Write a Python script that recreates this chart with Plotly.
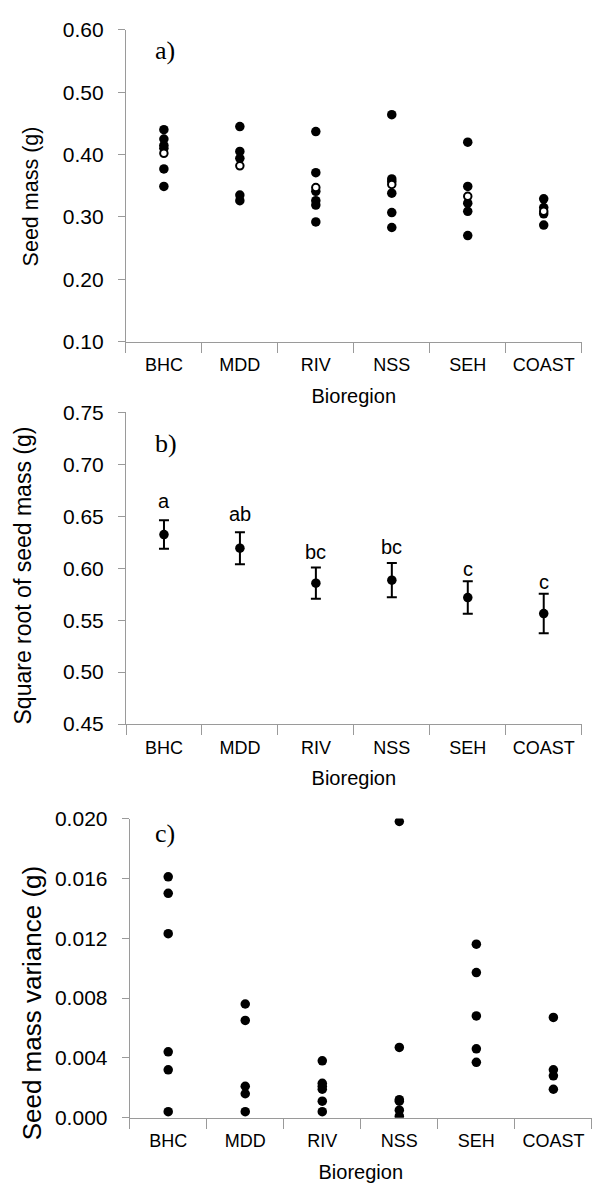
import plotly.graph_objects as go

W, H = 593, 1199

regions = ["BHC", "MDD", "RIV", "NSS", "SEH", "COAST"]

# Panel a: seed mass per population (filled) and regional mean (open)
mass_bhc = [0.440, 0.425, 0.415, 0.410, 0.377, 0.349]
mass_mdd = [0.445, 0.405, 0.394, 0.335, 0.326]
mass_riv = [0.437, 0.371, 0.341, 0.326, 0.319, 0.292]
mass_nss = [0.464, 0.361, 0.357, 0.338, 0.307, 0.283]
mass_seh = [0.420, 0.349, 0.322, 0.309, 0.270]
mass_coast = [0.329, 0.315, 0.305, 0.287]
mass_mean = [0.402, 0.382, 0.347, 0.352, 0.333, 0.309]

# Panel b: square root of seed mass, mean +/- SE, with letters
sqrt_mean = [0.6325, 0.6193, 0.5857, 0.5885, 0.5718, 0.5564]
sqrt_se = [0.0137, 0.0155, 0.0150, 0.0165, 0.0157, 0.0190]
letters = ["a", "ab", "bc", "bc", "c", "c"]
letter_y = [0.6646, 0.6524, 0.6159, 0.6206, 0.5989, 0.5863]

# Panel c: seed mass variance per population
var_bhc = [0.0161, 0.0150, 0.0123, 0.0044, 0.0032, 0.0004]
var_mdd = [0.0076, 0.0065, 0.0021, 0.0016, 0.0004]
var_riv = [0.0038, 0.0023, 0.0021, 0.0019, 0.0011, 0.0004]
var_nss = [0.0198, 0.0047, 0.0012, 0.0011, 0.0005, 0.0001]
var_seh = [0.0116, 0.0097, 0.0068, 0.0046, 0.0037]
var_coast = [0.0067, 0.0032, 0.0028, 0.0019]

mass_groups = [mass_bhc, mass_mdd, mass_riv, mass_nss, mass_seh, mass_coast]
var_groups = [var_bhc, var_mdd, var_riv, var_nss, var_seh, var_coast]


def flatten(groups):
    xs, ys = [], []
    for r, g in zip(regions, groups):
        xs += [r] * len(g)
        ys += g
    return xs, ys


fig = go.Figure()

mx, my = flatten(mass_groups)
fig.add_trace(go.Scatter(x=mx, y=my, mode="markers", xaxis="x", yaxis="y",
                         marker=dict(size=9.5, color="black"), showlegend=False))
fig.add_trace(go.Scatter(x=regions, y=mass_mean, mode="markers", xaxis="x", yaxis="y",
                         marker=dict(size=7.5, color="white", line=dict(color="black", width=2)),
                         showlegend=False))

fig.add_trace(go.Scatter(x=regions, y=sqrt_mean, mode="markers", xaxis="x2", yaxis="y2",
                         marker=dict(size=9.5, color="black"),
                         error_y=dict(type="data", array=sqrt_se, color="black", thickness=2, width=5),
                         showlegend=False))

vx, vy = flatten(var_groups)
fig.add_trace(go.Scatter(x=vx, y=vy, mode="markers", xaxis="x3", yaxis="y3",
                         marker=dict(size=9.5, color="black"), showlegend=False))

axis_col = "#9a9a9a"
font_main = "Liberation Sans, Arial, sans-serif"


def xaxis(domain, anchor):
    return dict(domain=domain, anchor=anchor, type="category", categoryorder="array",
                categoryarray=regions, range=[-0.5, 5.5], tickson="boundaries",
                ticks="outside", ticklen=10, tickcolor=axis_col, tickwidth=1,
                showline=True, linecolor=axis_col, linewidth=1, showgrid=False, zeroline=False,
                tickfont=dict(size=18, color="black", family=font_main), ticklabelstandoff=7,
                title=dict(text="Bioregion", font=dict(size=20, color="black", family=font_main),
                           standoff=14))


def yaxis(domain, anchor, rng, dtick, fmt):
    return dict(domain=domain, anchor=anchor, range=rng, dtick=dtick, tick0=0, tickformat=fmt,
                ticks="outside", ticklen=7, tickcolor=axis_col, tickwidth=1,
                showline=True, linecolor=axis_col, linewidth=1, showgrid=False, zeroline=False,
                tickfont=dict(size=21, color="black", family=font_main), ticklabelstandoff=10)


fig.update_layout(
    width=W, height=H, margin=dict(l=0, r=0, t=0, b=0),
    paper_bgcolor="white", plot_bgcolor="white",
    xaxis=xaxis([125.9 / W, 581.7 / W], "y"),
    yaxis=yaxis([1 - 336 / H, 1 - 18.3 / H], "x", [0.1, 0.6], 0.1, ".2f"),
    xaxis2=xaxis([126 / W, 581.7 / W], "y2"),
    yaxis2=yaxis([1 - 726 / H, 1 - 408.3 / H], "x2", [0.45, 0.75], 0.05, ".2f"),
    xaxis3=xaxis([129.7 / W, 591.9 / W], "y3"),
    yaxis3=yaxis([1 - 1127.3 / H, 1 - 822.3 / H], "x3", [0.0, 0.020], 0.004, ".3f"),
)

ann = []
# y axis titles
for txt, xc, yc, sz in [("Seed mass (g)", 31, 188, 21.5),
                        ("Square root of seed mass (g)", 22.5, 575, 23),
                        ("Seed mass variance (g)", 31.7, 1010, 26)]:
    ann.append(dict(text=txt, xref="paper", yref="paper", x=xc / W, y=1 - yc / H,
                    xanchor="center", yanchor="middle", textangle=-90, showarrow=False,
                    font=dict(size=sz, color="black", family=font_main)))
# panel labels
for txt, yc in [("a)", 39), ("b)", 440), ("c)", 837.5)]:
    ann.append(dict(text=txt, xref="paper", yref="paper", x=153 / W, y=1 - yc / H,
                    xanchor="left", yanchor="middle", showarrow=False,
                    font=dict(size=26, color="black",
                              family="Liberation Serif, Times New Roman, serif")))
# significance letters
for r, t, ly in zip(regions, letters, letter_y):
    ann.append(dict(text=t, xref="x2", yref="y2", x=r, y=ly, xanchor="center",
                    yanchor="middle", showarrow=False,
                    font=dict(size=20, color="black", family=font_main)))
fig.update_layout(annotations=ann)

fig.write_html("out.html")
